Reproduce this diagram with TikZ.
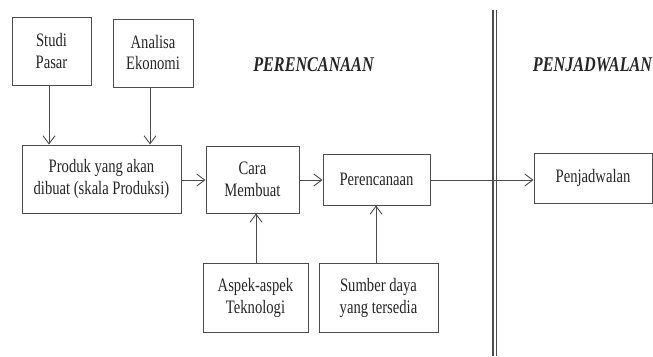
\documentclass[tikz,border=0pt]{standalone}
\usepackage{fontspec}
\setmainfont{Liberation Serif}[FakeStretch=0.77]
\usetikzlibrary{arrows.meta}
\definecolor{linec}{gray}{0.3}
\definecolor{textc}{gray}{0.15}
\tikzset{
  box/.style={draw=linec, line width=1pt, align=center, text=textc, inner sep=0pt,
    font=\fontsize{19}{22}\selectfont},
  title/.style={text=textc, font=\fontsize{21}{24}\selectfont\bfseries\itshape, inner sep=0pt},
  arr/.style={draw=linec, line width=0.9pt, -{Straight Barb[length=8pt,width=12pt,line width=0.9pt]}},
  sep/.style={draw=linec, line width=1.4pt}
}
\begin{document}
\begin{tikzpicture}[x=1pt,y=-1pt]
\useasboundingbox (0,0) rectangle (653,356);
\node[box, minimum width=79pt, minimum height=68pt] (studi) at (51.5,51) {Studi\\[-1pt]Pasar};
\node[box, minimum width=80pt, minimum height=68pt] (analisa) at (153,53) {Analisa\\[-1pt]Ekonomi};
\node[box, minimum width=159pt, minimum height=68pt] (produk) at (101.5,179) {Produk yang akan\\dibuat (skala Produksi)};
\node[box, minimum width=93pt, minimum height=67pt] (cara) at (252.5,179.5) {Cara\\Membuat};
\node[box, minimum width=107pt, minimum height=51pt] (peren) at (376.5,179.5) {Perencanaan};
\node[box, minimum width=118pt, minimum height=50pt] (penj) at (593,178) {Penjadwalan};
\node[box, minimum width=105pt, minimum height=69pt] (aspek) at (255.5,297.5) {Aspek-aspek\\Teknologi};
\node[box, minimum width=119pt, minimum height=69pt] (sumber) at (378.5,297.5) {Sumber daya\\yang tersedia};
\node[title] (t1) at (313.5,64.5) {PERENCANAAN};
\node[title] (t2) at (592.5,64.5) {PENJADWALAN};
\coordinate (s1a) at (493,10);
\coordinate (s1b) at (493,356);
\coordinate (s2a) at (496.5,10);
\coordinate (s2b) at (496.5,356);
\draw[sep] (s1a) -- (s1b);
\draw[sep] (s2a) -- (s2b);
\draw[arr] (studi.south -| 49,0) -- (produk.north -| 49,0);
\draw[arr] (analisa.south -| 150,0) -- (produk.north -| 150,0);
\draw[arr] (produk.east |- 0,180) -- (cara.west |- 0,180);
\draw[arr] (cara.east |- 0,180) -- (peren.west |- 0,180);
\draw[arr] (peren.east |- 0,180) -- (penj.west |- 0,180);
\draw[arr] (aspek.north -| 256,0) -- (cara.south -| 256,0);
\draw[arr] (sumber.north -| 376,0) -- (peren.south -| 376,0);
\end{tikzpicture}
\end{document}
